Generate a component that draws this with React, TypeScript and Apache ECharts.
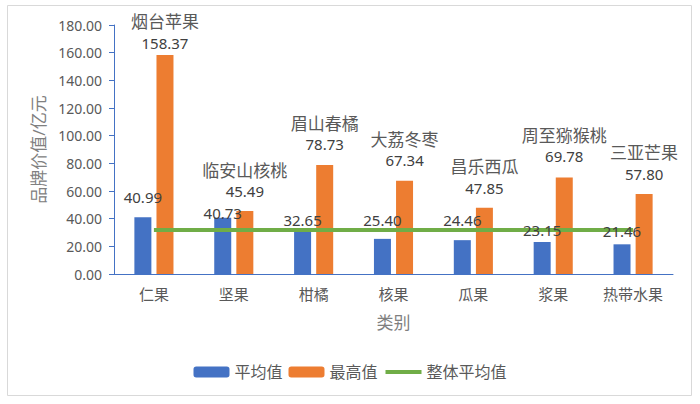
import React, { useEffect, useRef } from "react";
import * as echarts from "echarts";

const categories = ["仁果", "坚果", "柑橘", "核果", "瓜果", "浆果", "热带水果"];
const avgValues = [40.99, 40.73, 32.65, 25.4, 24.46, 23.15, 21.46];
const maxValues = [158.37, 45.49, 78.73, 67.34, 47.85, 69.78, 57.8];
const maxBrands = ["烟台苹果", "临安山核桃", "眉山春橘", "大荔冬枣", "昌乐西瓜", "周至猕猴桃", "三亚芒果"];
const overallAvgValues = [31.8, 31.8, 31.8, 31.8, 31.8, 31.8, 31.8];
const seriesNames = ["平均值", "最高值", "整体平均值"];
const yTicks = { min: 0, max: 180, interval: 20 };

// zero-height helper stacked on the blue bars, only to carry their labels above the line
const avgLabelHolder = [0, 0, 0, 0, 0, 0, 0];

// label placement tweaks (style, not data)
const avgLabelLift = [20.6, 4.7, 9, 19, 20.5, 11.6, 13];
const maxLabelLift = [12, 20, 20.7, 20.4, 20, 21, 20.4];

const FONT = "'Noto Sans', 'Noto Sans CJK SC', sans-serif";

export default function App() {
  const ref = useRef<HTMLDivElement>(null);
  useEffect(() => {
    if (!ref.current) return;
    const chart = echarts.init(ref.current, null, { renderer: "svg" });
    chart.setOption({
      animation: false,
      textStyle: { fontFamily: FONT },
      graphic: [
        {
          type: "rect",
          shape: { x: 7.5, y: 5.5, width: 684, height: 390 },
          style: { fill: "#fff", stroke: "#d9d9d9", lineWidth: 1 },
          z: -10,
          silent: true,
        },
      ],
      grid: { left: 114, right: 27, top: 25, bottom: 130, containLabel: false },
      legend: {
        data: [
          { name: seriesNames[0] },
          { name: seriesNames[1] },
          { name: seriesNames[2], itemStyle: { opacity: 0 }, lineStyle: { width: 4 } },
        ],
        left: "center",
        top: 359,
        itemWidth: 36,
        itemHeight: 11,
        itemGap: 6,
        textStyle: { fontSize: 16, color: "#595959", fontFamily: FONT },
      },
      xAxis: {
        type: "category",
        data: categories,
        name: "类别",
        nameLocation: "middle",
        nameGap: 40,
        nameTextStyle: { fontSize: 17, color: "#808080", fontFamily: FONT },
        axisLine: { show: true, lineStyle: { color: "#4472C4", width: 1 } },
        axisTick: { show: false },
        axisLabel: { fontSize: 15, color: "#595959", margin: 12, fontFamily: FONT },
      },
      yAxis: {
        type: "value",
        min: yTicks.min,
        max: yTicks.max,
        interval: yTicks.interval,
        name: "品牌价值/亿元",
        nameLocation: "middle",
        nameGap: 64,
        nameRotate: 90,
        nameTextStyle: { fontSize: 17, color: "#808080", fontFamily: FONT },
        axisLine: { show: true, lineStyle: { color: "#4472C4", width: 1 } },
        axisTick: { show: true, length: 5, lineStyle: { color: "#4472C4" } },
        splitLine: { show: false },
        axisLabel: {
          fontSize: 14,
          color: "#595959",
          margin: 12,
          fontFamily: FONT,
          formatter: (v: number) => v.toFixed(2),
        },
      },
      series: [
        {
          name: seriesNames[0],
          type: "bar",
          stack: "avg",
          z: 2,
          barWidth: 17,
          barGap: "30%",
          itemStyle: { color: "#4472C4" },
          data: avgValues,
        },
        {
          name: seriesNames[1],
          type: "bar",
          z: 4,
          barWidth: 17,
          barGap: "30%",
          itemStyle: { color: "#ED7D31" },
          data: maxValues.map((v, i) => ({
            value: v,
            label: {
              show: true,
              position: "top",
              distance: maxLabelLift[i] - 10,
              formatter: () => `{n|${maxBrands[i]}}\n{v|${v.toFixed(2)}}`,
              rich: {
                n: { fontSize: 17, lineHeight: 22, color: "#595959", fontFamily: FONT },
                v: { fontSize: 15, lineHeight: 20, color: "#404040", fontFamily: FONT },
              },
            },
          })),
        },
        {
          name: seriesNames[2],
          type: "line",
          symbol: "none",
          showSymbol: false,
          z: 5,
          lineStyle: { color: "#70AD47", width: 4 },
          itemStyle: { color: "#70AD47" },
          data: overallAvgValues,
        },
        {
          name: "avgLabels",
          type: "bar",
          stack: "avg",
          z: 6,
          barWidth: 17,
          barGap: "30%",
          silent: true,
          itemStyle: { color: "rgba(0,0,0,0)" },
          data: avgLabelHolder.map((v, i) => ({
            value: v,
            label: {
              show: true,
              position: "top",
              distance: 0,
              offset: [0, -(avgLabelLift[i] - 8)],
              lineHeight: 16,
              fontSize: 15,
              color: "#404040",
              fontFamily: FONT,
              formatter: () => avgValues[i].toFixed(2),
            },
          })),
        },
      ],
    });
    return () => chart.dispose();
  }, []);
  return (
    <div
      ref={ref}
      style={{ position: "fixed", left: 0, top: 0, width: 700, height: 404, background: "#fff" }}
    />
  );
}
